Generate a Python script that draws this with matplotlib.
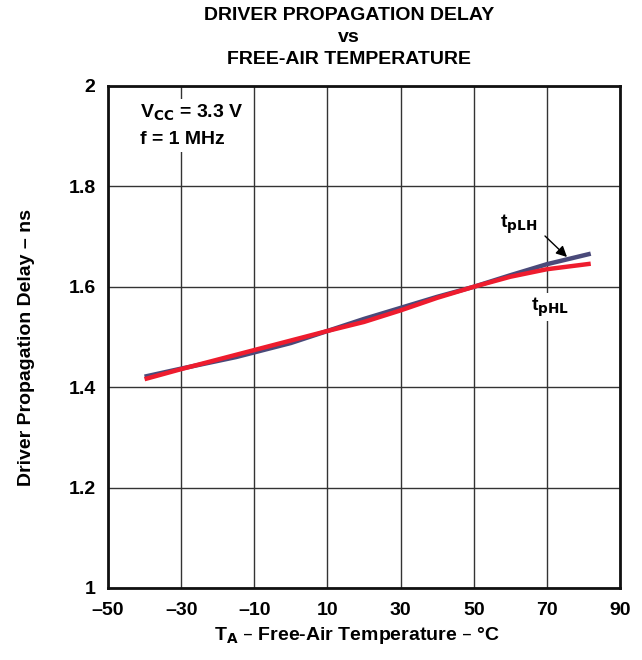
import matplotlib
matplotlib.use("Agg")
import matplotlib.pyplot as plt

plt.rcParams['font.family'] = ['Liberation Sans', 'DejaVu Sans']

temp_lh = [-40, -30, -15, 0, 10, 20, 30, 40, 50, 60, 70, 82]
tplh = [1.421, 1.437, 1.460, 1.488, 1.512, 1.536, 1.558, 1.580, 1.600, 1.623, 1.645, 1.666]
temp_hl = [-40, -30, -10, 10, 20, 30, 40, 50, 60, 70, 82]
tphl = [1.416, 1.436, 1.474, 1.512, 1.530, 1.553, 1.578, 1.600, 1.620, 1.635, 1.646]

xticks = [-50, -30, -10, 10, 30, 50, 70, 90]
yticks = [1.0, 1.2, 1.4, 1.6, 1.8, 2.0]
ytick_labels = ['1', '1.2', '1.4', '1.6', '1.8', '2']
xtick_labels = ['\u201350', '\u201330', '\u201310', '10', '30', '50', '70', '90']

FS = 14
W, H = 642, 660

fig = plt.figure(figsize=(6.42, 6.6), dpi=100)
ax = fig.add_axes([108 / W, 1 - 588 / H, 512 / W, 502 / H])

ax.set_xlim(-50, 90)
ax.set_ylim(1.0, 2.0)
ax.set_xticks(xticks)
ax.set_xticklabels(xtick_labels, fontsize=FS, fontweight='bold')
ax.set_yticks(yticks)
ax.set_yticklabels(ytick_labels, fontsize=FS, fontweight='bold')
ax.tick_params(axis='y', length=0, pad=9)
ax.tick_params(axis='x', length=0, pad=10)
ax.grid(True, color='#333333', linewidth=1.0, zorder=0)
for s in ax.spines.values():
    s.set_linewidth(2.0)
    s.set_color('#111111')

ax.plot(temp_lh, tplh, color='#4a4a7a', linewidth=3.2, zorder=3, solid_capstyle='butt')
ax.plot(temp_hl, tphl, color='#ee1c2e', linewidth=3.2, zorder=4, solid_capstyle='butt')


def px2data(x, y):
    return (-50 + (x - 108) / 512 * 140, 1.0 + (588 - y) / 502 * 1.0)


vx, vy = px2data(140, 113)
fx, fy = px2data(140, 139)
ax.text(vx, vy, r'V$_{\mathbf{CC}}$ = 3.3 V', fontsize=FS, fontweight='bold',
        ha='left', va='center', zorder=5,
        bbox=dict(facecolor='white', edgecolor='none', pad=3))
ax.text(fx, fy, 'f = 1 MHz', fontsize=FS, fontweight='bold',
        ha='left', va='center', zorder=5,
        bbox=dict(facecolor='white', edgecolor='none', pad=3))

lx, ly = px2data(500, 224)
ax0, ay0 = px2data(545, 236)
ax1, ay1 = px2data(567, 257)
ax.text(lx, ly, r't$_{\mathbf{pLH}}$', fontsize=FS, fontweight='bold',
        ha='left', va='center', zorder=6,
        bbox=dict(facecolor='white', edgecolor='none', pad=2))
ax.annotate('', xy=(ax1, ay1), xytext=(ax0, ay0), zorder=6,
            arrowprops=dict(arrowstyle='-|>', color='black', lw=1.0,
                            mutation_scale=16, shrinkA=0, shrinkB=0))
hx, hy = px2data(531, 307)
ax.text(hx, hy, r't$_{\mathbf{pHL}}$', fontsize=FS, fontweight='bold',
        ha='left', va='center', zorder=6,
        bbox=dict(facecolor='white', edgecolor='none', pad=2))

fig.text(357 / W, 1 - 636 / H, 'T$_{\\mathbf{A}}$ \u2013 Free-Air Temperature \u2013 \u00b0C',
         ha='center', va='center', fontsize=FS, fontweight='bold')
fig.text(27 / W, 1 - 348 / H, 'Driver Propagation Delay \u2013 ns', rotation=90,
         ha='center', va='center', fontsize=FS, fontweight='bold')

fig.text(349 / W, 1 - 16 / H, 'DRIVER PROPAGATION DELAY',
         ha='center', va='center', fontsize=FS, fontweight='bold')
fig.text(349 / W, 1 - 37 / H, 'vs',
         ha='center', va='center', fontsize=FS, fontweight='bold')
fig.text(349 / W, 1 - 60 / H, 'FREE-AIR TEMPERATURE',
         ha='center', va='center', fontsize=FS, fontweight='bold')

fig.savefig('out.png', dpi=100)
